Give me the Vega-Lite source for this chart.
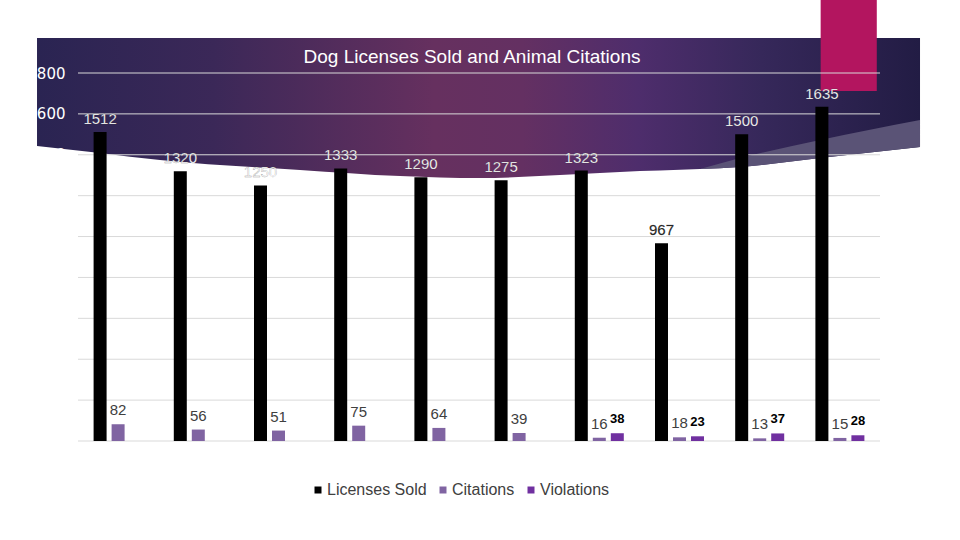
{
  "$schema": "https://vega.github.io/schema/vega-lite/v6.json",
  "width": 802,
  "height": 368,
  "autosize": {"type": "none"},
  "padding": {"left": 78, "top": 73, "right": 80, "bottom": 99},
  "background": "#ffffff",
  "title": {
    "text": "Dog Licenses Sold and Animal Citations",
    "color": "#ffffff",
    "font": "Liberation Sans",
    "fontSize": 19,
    "fontWeight": "normal",
    "anchor": "middle",
    "frame": "group",
    "baseline": "alphabetic",
    "offset": 10,
    "dx": -7,
    "dy": 93,
    "zindex": 2
  },
  "config": {
    "view": {"stroke": null},
    "font": "Liberation Sans"
  },
  "resolve": {"scale": {"x": "independent"}},
  "layer": [
    {
      "data": {
        "values": [
          {"u": -0.511, "lower": 1443, "upper": 1971},
          {"u": 0.274, "lower": 1409, "upper": 1971},
          {"u": 1.022, "lower": 1374, "upper": 1971},
          {"u": 2.768, "lower": 1326, "upper": 1971},
          {"u": 4.015, "lower": 1296, "upper": 1971},
          {"u": 5.012, "lower": 1286, "upper": 1971},
          {"u": 6.010, "lower": 1301, "upper": 1971},
          {"u": 6.758, "lower": 1316, "upper": 1971},
          {"u": 7.756, "lower": 1330, "upper": 1971},
          {"u": 8.254, "lower": 1340, "upper": 1971},
          {"u": 9.252, "lower": 1384, "upper": 1971},
          {"u": 10.499, "lower": 1438, "upper": 1971}
        ]
      },
      "mark": {
        "type": "area",
        "interpolate": "monotone",
        "fill": {
          "gradient": "linear",
          "x1": 0, "y1": 0, "x2": 1, "y2": 0,
          "stops": [
            {"offset": 0, "color": "#2a2452"},
            {"offset": 0.2, "color": "#3b2858"},
            {"offset": 0.45, "color": "#66305f"},
            {"offset": 0.55, "color": "#643062"},
            {"offset": 0.68, "color": "#4e2d6c"},
            {"offset": 0.82, "color": "#36285a"},
            {"offset": 1, "color": "#221c44"}
          ]
        }
      },
      "encoding": {
        "x": {"field": "u", "type": "quantitative", "scale": {"domain": [0, 10], "nice": false, "zero": false}, "axis": null},
        "y": {
          "field": "lower",
          "type": "quantitative",
          "scale": {"domain": [0, 1800]},
          "axis": {
            "title": null,
            "grid": false,
            "domain": false,
            "ticks": false,
            "labelColor": "#ffffff",
            "labelFontSize": 15,
            "labelPadding": 13,
            "labelFont": "DejaVu Sans",
            "zindex": 1,
            "values": [0, 200, 400, 600, 800, 1000, 1200, 1400, 1600, 1800],
            "format": "d"
          }
        },
        "y2": {"field": "upper"}
      }
    },
    {
      "data": {
        "values": [
          {"u": 7.756, "lower": 1330, "upper": 1330},
          {"u": 8.254, "lower": 1340, "upper": 1384},
          {"u": 9.252, "lower": 1384, "upper": 1472},
          {"u": 10.499, "lower": 1438, "upper": 1570}
        ]
      },
      "mark": {"type": "area", "interpolate": "monotone", "fill": "#5a5376"},
      "encoding": {
        "x": {"field": "u", "type": "quantitative", "scale": {"domain": [0, 10], "nice": false, "zero": false}, "axis": null},
        "y": {"field": "lower", "type": "quantitative", "scale": {"domain": [0, 1800]}, "title": null},
        "y2": {"field": "upper"}
      }
    },
    {
      "data": {"values": [{"u": 9.26, "u2": 9.96, "lower": 1712, "upper": 2160}]},
      "mark": {"type": "rect", "fill": "#b3155f"},
      "encoding": {
        "x": {"field": "u", "type": "quantitative", "scale": {"domain": [0, 10], "nice": false, "zero": false}, "axis": null},
        "x2": {"field": "u2"},
        "y": {"field": "lower", "type": "quantitative", "scale": {"domain": [0, 1800]}, "title": null},
        "y2": {"field": "upper"}
      }
    },
    {
      "data": {"values": [{"level": 0}, {"level": 200}, {"level": 400}, {"level": 600}, {"level": 800}, {"level": 1000}, {"level": 1200}, {"level": 1400}, {"level": 1600}, {"level": 1800}]},
      "mark": {"type": "rule", "color": "#d9d9d9", "strokeWidth": 1},
      "encoding": {
        "y": {"field": "level", "type": "quantitative", "scale": {"domain": [0, 1800]}, "title": null}
      }
    },
    {
      "data": {
        "values": [
          {"group": 1, "series": "Licenses Sold", "value": 1512},
          {"group": 2, "series": "Licenses Sold", "value": 1320},
          {"group": 3, "series": "Licenses Sold", "value": 1250},
          {"group": 4, "series": "Licenses Sold", "value": 1333},
          {"group": 5, "series": "Licenses Sold", "value": 1290},
          {"group": 6, "series": "Licenses Sold", "value": 1275},
          {"group": 7, "series": "Licenses Sold", "value": 1323},
          {"group": 8, "series": "Licenses Sold", "value": 967},
          {"group": 9, "series": "Licenses Sold", "value": 1500},
          {"group": 10, "series": "Licenses Sold", "value": 1635},
          {"group": 1, "series": "Citations", "value": 82},
          {"group": 2, "series": "Citations", "value": 56},
          {"group": 3, "series": "Citations", "value": 51},
          {"group": 4, "series": "Citations", "value": 75},
          {"group": 5, "series": "Citations", "value": 64},
          {"group": 6, "series": "Citations", "value": 39},
          {"group": 7, "series": "Citations", "value": 16},
          {"group": 8, "series": "Citations", "value": 18},
          {"group": 9, "series": "Citations", "value": 13},
          {"group": 10, "series": "Citations", "value": 15},
          {"group": 7, "series": "Violations", "value": 38},
          {"group": 8, "series": "Violations", "value": 23},
          {"group": 9, "series": "Violations", "value": 37},
          {"group": 10, "series": "Violations", "value": 28}
        ]
      },
      "encoding": {
        "x": {"field": "group", "type": "ordinal", "scale": {"domain": [1, 2, 3, 4, 5, 6, 7, 8, 9, 10], "paddingInner": 0.389, "paddingOuter": 0.1945}, "axis": null},
        "xOffset": {"field": "series", "type": "nominal", "scale": {"domain": ["Licenses Sold", "Citations", "Violations"], "paddingInner": 0.278, "paddingOuter": 0}},
        "y": {"field": "value", "type": "quantitative", "scale": {"domain": [0, 1800]}, "title": null}
      },
      "layer": [
        {
          "mark": {"type": "bar"},
          "encoding": {
            "color": {
              "field": "series",
              "type": "nominal",
              "scale": {"domain": ["Licenses Sold", "Citations", "Violations"], "range": ["#000000", "#8064a2", "#7030a0"]},
              "legend": {
                "orient": "none",
                "legendX": 232,
                "legendY": 409,
                "direction": "horizontal",
                "title": null,
                "symbolType": "square",
                "symbolSize": 49,
                "symbolStrokeWidth": 0,
                "labelFontSize": 16,
                "labelFont": "Liberation Sans",
                "labelColor": "#404040",
                "columnPadding": 8,
                "labelOffset": 1
              }
            }
          }
        },
        {
          "transform": [{"filter": "datum.series === 'Licenses Sold'"}],
          "mark": {"type": "text", "dy": -8, "fontSize": 15, "baseline": "alphabetic", "align": "center", "stroke": "#333333", "strokeWidth": 0.3, "strokeOpacity": 0.6},
          "encoding": {
            "text": {"field": "value", "type": "quantitative", "format": "d"},
            "color": {"condition": {"test": "datum.value < 1000", "value": "#262626"}, "value": "#ffffff"}
          }
        },
        {
          "transform": [{"filter": "datum.series === 'Citations'"}],
          "mark": {"type": "text", "dy": -9, "fontSize": 15, "baseline": "alphabetic", "align": "center", "color": "#404040"},
          "encoding": {
            "text": {"field": "value", "type": "quantitative", "format": "d"}
          }
        },
        {
          "transform": [{"filter": "datum.series === 'Violations'"}],
          "mark": {"type": "text", "dy": -10, "fontSize": 13, "fontWeight": "bold", "baseline": "alphabetic", "align": "center", "color": "#000000"},
          "encoding": {
            "text": {"field": "value", "type": "quantitative", "format": "d"}
          }
        }
      ]
    }
  ]
}
